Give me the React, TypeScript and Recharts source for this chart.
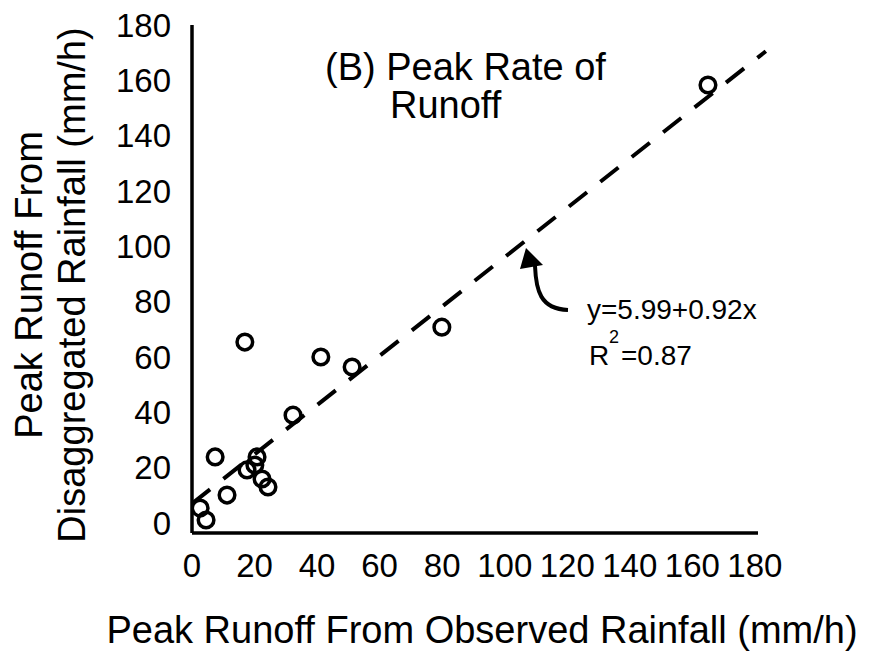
import { ReferenceLine, Scatter, ScatterChart, XAxis, YAxis } from "recharts";

// peak runoff (mm/h), one entry per event
const observed = [16.9, 7.4, 20.8, 20.1, 17.6, 22.4, 24.3, 11.2, 2.6, 4.5, 41.2, 51.2, 79.9, 32.3, 165];
const disaggregated = [65.4, 23.9, 23.9, 21, 19.2, 15.9, 13, 10.1, 5.4, 1.1, 60, 56.4, 70.8, 39, 158.3];

const xTicks = [0, 20, 40, 60, 80, 100, 120, 140, 160, 180];
const yTicks = [0, 20, 40, 60, 80, 100, 120, 140, 160, 180];

// fitted line y = 5.99 + 0.92x, as drawn
const fitLine = [
  { x: 0, y: 7 },
  { x: 183.5, y: 170.5 },
];

const points = observed.map((x, i) => ({ x, y: disaggregated[i] }));

const font = "'Liberation Sans', Arial, sans-serif";
const tick = { fontSize: 33, fill: "#000", fontFamily: font };

function Ring(props: any) {
  return <circle cx={props.cx} cy={props.cy} r={7.8} fill="none" stroke="#000" strokeWidth={3.5} />;
}

export default function App() {
  return (
    <div style={{ position: "absolute", left: 0, top: 0, width: 881, height: 652, background: "#fff" }}>
      <ScatterChart width={881} height={652} margin={{ top: 25, right: 123, bottom: 59, left: 112 }}>
        <XAxis
          type="number"
          dataKey="x"
          domain={[0, 181]}
          ticks={xTicks}
          allowDataOverflow
          height={60}
          tickLine={false}
          tickSize={0}
          tickMargin={21}
          tick={tick}
          axisLine={{ stroke: "#000", strokeWidth: 3.5 }}
        />
        <YAxis
          type="number"
          dataKey="y"
          domain={[-3.6, 180]}
          ticks={yTicks}
          allowDataOverflow
          width={80}
          tickLine={false}
          tickSize={0}
          tickMargin={21}
          tick={tick}
          axisLine={{ stroke: "#000", strokeWidth: 3.5 }}
        />
        <ReferenceLine
          segment={fitLine}
          stroke="#000"
          strokeWidth={4}
          strokeDasharray="23 17"
          ifOverflow="visible"
        />
        <Scatter data={points} shape={Ring} isAnimationActive={false} />
      </ScatterChart>
      <svg
        width={881}
        height={652}
        style={{ position: "absolute", left: 0, top: 0, pointerEvents: "none" }}
        fontFamily={font}
        fill="#000"
      >
        <text x={325} y={80} fontSize={38}>(B) Peak Rate of</text>
        <text x={390} y={118} fontSize={38}>Runoff</text>

        <path d="M 535 266 C 536 290, 540 309, 568 310" fill="none" stroke="#000" strokeWidth={4} />
        <polygon points="526,248 520,269 543,265" fill="#000" />

        <text x={587} y={319} fontSize={28}>y=5.99+0.92x</text>
        <text x={589} y={365} fontSize={28}>R</text>
        <text x={609} y={343} fontSize={18}>2</text>
        <text x={621} y={365} fontSize={28}>=0.87</text>

        <text x={482} y={643} fontSize={38} textAnchor="middle">
          Peak Runoff From Observed Rainfall (mm/h)
        </text>
        <text transform="translate(42,285) rotate(-90)" fontSize={38} textAnchor="middle">
          Peak Runoff From
        </text>
        <text transform="translate(85,285) rotate(-90)" fontSize={38} textAnchor="middle">
          Disaggregated Rainfall (mm/h)
        </text>
      </svg>
    </div>
  );
}
